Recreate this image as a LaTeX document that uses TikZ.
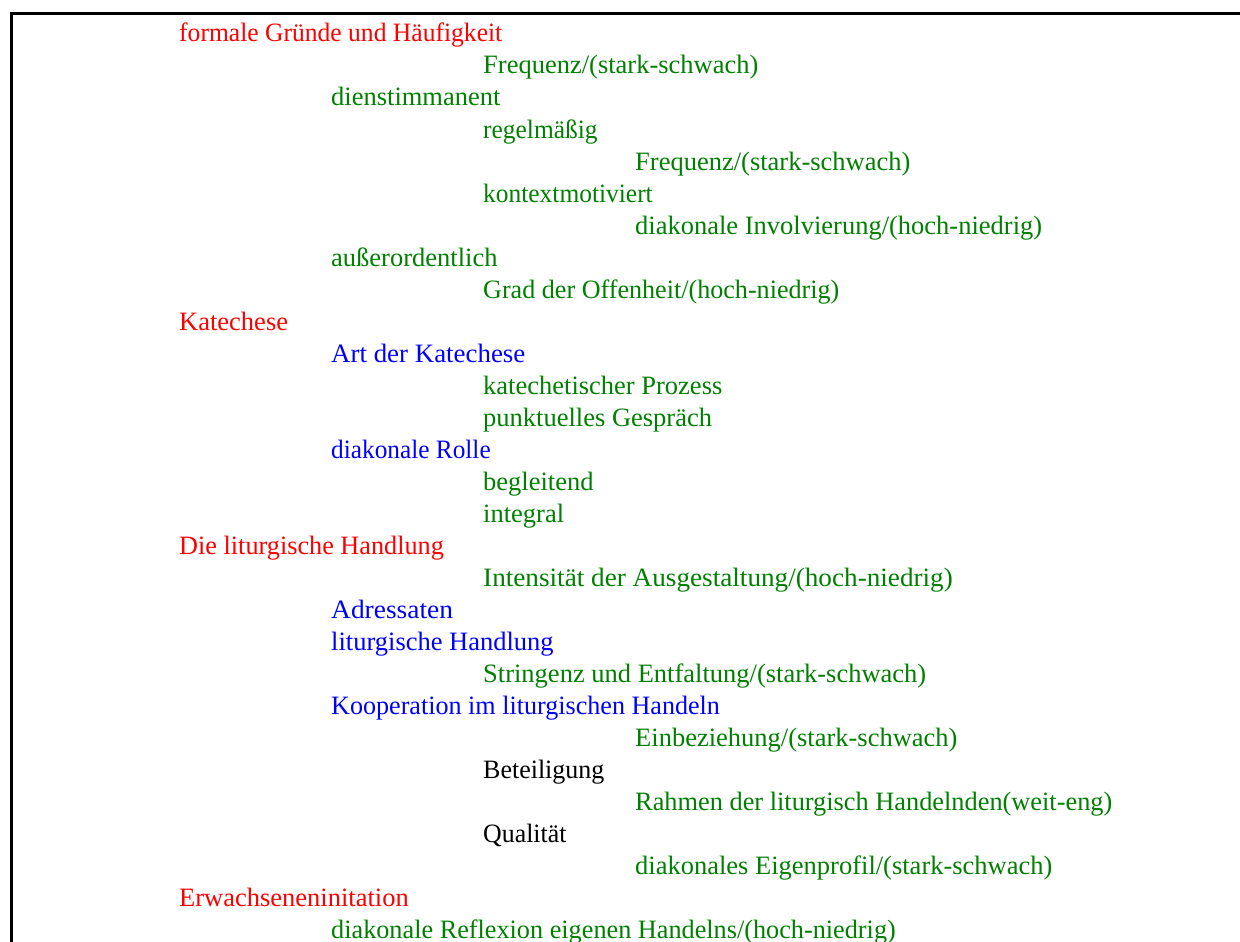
\documentclass[tikz,border=0pt]{standalone}
\usepackage{fontspec}
\usepackage{graphicx}
\setmainfont{Liberation Serif}
\definecolor{cred}{RGB}{255,0,0}
\definecolor{cgreen}{RGB}{0,128,0}
\definecolor{cblue}{RGB}{0,0,255}
\newcommand\hsq[2]{\scalebox{#1}[1]{#2}}
\tikzset{
  item/.style={anchor=base west, inner sep=0pt, font=\fontsize{26.5}{31}\selectfont},
  head/.style={item, text=cred},
  sub/.style={item, text=cgreen},
  cat/.style={item, text=cblue},
  plain/.style={item, text=black},
  frameline/.style={line width=3pt, line join=miter}
}
\begin{document}
\begin{tikzpicture}[x=1pt,y=-1pt]
\useasboundingbox (0,0) rectangle (1240,942);
\draw[frameline] (11.5,950) -- (11.5,13.5) -- (1250,13.5);
\def\LA{179}\def\LB{331}\def\LC{483}\def\LD{635}
\node[head]  (n1)  at (\LA, 42.0) {\hsq{0.965}{formale Gründe und Häufigkeit}};
\node[sub]   (n2)  at (\LC, 74.0) {Frequenz/(stark-schwach)};
\node[sub]   (n3)  at (\LB,106.0) {dienstimmanent};
\node[sub]   (n4)  at (\LC,138.0) {\hsq{0.96}{regelmäßig}};
\node[sub]   (n5)  at (\LD,170.0) {Frequenz/(stark-schwach)};
\node[sub]   (n6)  at (\LC,202.0) {\hsq{0.96}{kontextmotiviert}};
\node[sub]   (n7)  at (\LD,234.0) {diakonale Involvierung/(hoch-niedrig)};
\node[sub]   (n8)  at (\LB,266.0) {außerordentlich};
\node[sub]   (n9)  at (\LC,298.0) {\hsq{0.985}{Grad der Offenheit/(hoch-niedrig)}};
\node[head]  (n10) at (\LA,330.0) {Katechese};
\node[cat]   (n11) at (\LB,362.0) {\hsq{1.015}{Art der Katechese}};
\node[sub]   (n12) at (\LC,394.0) {katechetischer Prozess};
\node[sub]   (n13) at (\LC,426.0) {punktuelles Gespräch};
\node[cat]   (n14) at (\LB,458.0) {\hsq{0.955}{diakonale Rolle}};
\node[sub]   (n15) at (\LC,490.0) {begleitend};
\node[sub]   (n16) at (\LC,522.0) {integral};
\node[head]  (n17) at (\LA,554.0) {\hsq{0.99}{Die liturgische Handlung}};
\node[sub]   (n18) at (\LC,586.0) {\hsq{1.026}{Intensität der Ausgestaltung/(hoch-niedrig)}};
\node[cat]   (n19) at (\LB,618.0) {\hsq{1.035}{Adressaten}};
\node[cat]   (n20) at (\LB,650.0) {liturgische Handlung};
\node[sub]   (n21) at (\LC,682.0) {Stringenz und Entfaltung/(stark-schwach)};
\node[cat]   (n22) at (\LB,714.0) {\hsq{0.985}{Kooperation im liturgischen Handeln}};
\node[sub]   (n23) at (\LD,746.0) {Einbeziehung/(stark-schwach)};
\node[plain] (n24) at (\LC,778.0) {\hsq{0.98}{Beteiligung}};
\node[sub]   (n25) at (\LD,810.0) {\hsq{0.994}{Rahmen der liturgisch Handelnden(weit-eng)}};
\node[plain] (n26) at (\LC,842.0) {\hsq{0.975}{Qualität}};
\node[sub]   (n27) at (\LD,874.0) {diakonales Eigenprofil/(stark-schwach)};
\node[head]  (n28) at (\LA,906.0) {Erwachseneninitation};
\node[sub]   (n29) at (\LB,938.0) {\hsq{0.99}{diakonale Reflexion eigenen Handelns/(hoch-niedrig)}};
\end{tikzpicture}
\end{document}
